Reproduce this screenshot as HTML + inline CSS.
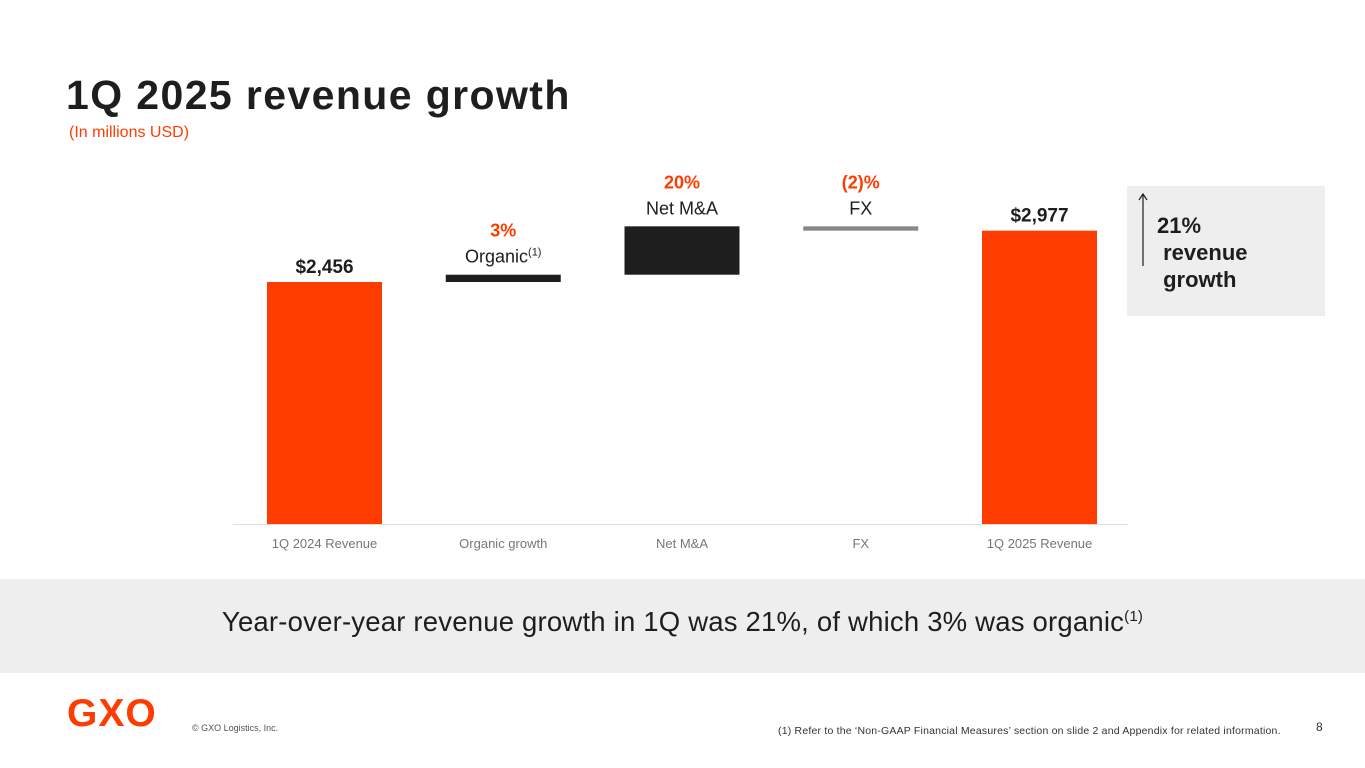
<!DOCTYPE html>
<html><head><meta charset="utf-8"><style>
body{margin:0;width:1365px;height:768px;overflow:hidden;background:#fff;font-family:"Liberation Sans",sans-serif;position:relative}
.abs{position:absolute}
</style></head><body>
<div class="abs" style="left:66px;top:72px;font-size:41px;font-weight:bold;color:#1e1e1e;letter-spacing:1.4px">1Q 2025 revenue growth</div>
<div class="abs" style="left:69px;top:124px;font-size:16px;color:#ff3c00">(In millions USD)</div>

<svg class="abs" style="left:0;top:0" width="1365" height="580">
<g id="g"></g>
</svg>

<div class="abs" style="left:1127px;top:186px;width:198px;height:130px;background:#eeeeee">
  <svg class="abs" style="left:8px;top:6px" width="16" height="80">
    <line x1="8" y1="3" x2="8" y2="74" stroke="#1e1e1e" stroke-width="1.2"/>
    <polyline points="4,8 8,2 12,8" fill="none" stroke="#1e1e1e" stroke-width="1.2"/>
  </svg>
  <div class="abs" style="left:30px;top:26px;font-size:22px;font-weight:bold;color:#1e1e1e;line-height:27px">21%<br>&nbsp;revenue<br>&nbsp;growth</div>
</div>

<div class="abs" style="left:0;top:579px;width:1365px;height:94px;background:#eeeeee"></div>
<div class="abs" style="left:0;top:606px;width:1365px;text-align:center;font-size:27.5px;color:#1e1e1e;letter-spacing:0.2px">Year-over-year revenue growth in 1Q was 21%, of which 3% was organic<sup style="font-size:15px">(1)</sup></div>

<div class="abs" style="left:67px;top:692px;font-size:39px;font-weight:bold;color:#ff3c00;letter-spacing:1px">GXO</div>
<div class="abs" style="left:192px;top:723px;font-size:9px;color:#555">© GXO Logistics, Inc.</div>
<div class="abs" style="left:778px;top:725px;font-size:10.5px;color:#333;letter-spacing:0.2px">(1) Refer to the ‘Non-GAAP Financial Measures’ section on slide 2 and Appendix for related information.</div>
<div class="abs" style="left:1316px;top:720px;font-size:12px;color:#333">8</div>

<script>
const categories=["1Q 2024 Revenue","Organic growth","Net M&A","FX","1Q 2025 Revenue"];
const values=[2456,74,491,-44,2977];
const kinds=["total","delta","delta","delta","total"];
const valueLabels=["$2,456","3%","20%","(2)%","$2,977"];
const subLabels=["","Organic","Net M&A","FX",""];
const colors=["#ff3c00","#1e1e1e","#1e1e1e","#888888","#ff3c00"];
const NS="http://www.w3.org/2000/svg";
const g=document.getElementById('g');
const base=524, scale=242/2456, x0=267, step=178.75, bw=115;
const y=v=>base-v*scale;
const xb=i=>x0+i*step;
function mk(t,a){const e=document.createElementNS(NS,t);for(const k in a)e.setAttribute(k,a[k]);g.appendChild(e);return e;}
const ax=mk('line',{x1:233,x2:1128,y1:base+0.5,y2:base+0.5,stroke:'#dddddd','stroke-width':1});


let run=0;
categories.forEach((c,i)=>{
  let lo,hi;
  if(kinds[i]==="total"){lo=0;hi=values[i];run=values[i];}
  else{const s=run;run+=values[i];lo=Math.min(s,run);hi=Math.max(s,run);}
  let h=Math.max(y(lo)-y(hi),3);
  const r=mk('rect',{x:xb(i),y:y(hi),width:bw,height:h,fill:colors[i]});
  
  
  const cx=xb(i)+bw/2;
  const t=mk('text',{x:cx,y:548,'text-anchor':'middle','font-size':13,fill:'#777'});t.textContent=c;
  
  
  const top=y(hi);
  if(kinds[i]==="total"){
    const v=mk('text',{x:cx,y:top-9,'text-anchor':'middle','font-size':19,'font-weight':'bold',fill:'#1e1e1e'});v.textContent=valueLabels[i];
    
    
  }else{
    const s=mk('text',{x:cx,y:top-12,'text-anchor':'middle','font-size':18,fill:'#1e1e1e'});s.textContent=subLabels[i];
    
    
    if(i===1){const sp=document.createElementNS(NS,'tspan');sp.setAttribute('font-size',11);sp.setAttribute('dy',-7);sp.textContent='(1)';s.appendChild(sp);}
    const p=mk('text',{x:cx,y:top-38,'text-anchor':'middle','font-size':18,'font-weight':'bold',fill:'#ff3c00'});p.textContent=valueLabels[i];
    
    
  }
});
</script>
</body></html>
